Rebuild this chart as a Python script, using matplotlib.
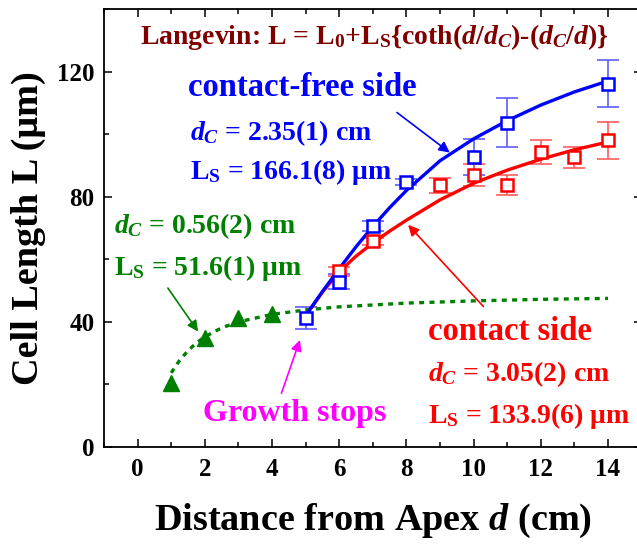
import matplotlib
matplotlib.use("Agg")
import matplotlib.pyplot as plt
from matplotlib.ticker import MultipleLocator

plt.rcParams['font.family'] = 'Liberation Serif'
plt.rcParams['font.weight'] = 'bold'
plt.rcParams['mathtext.fontset'] = 'custom'
plt.rcParams['mathtext.rm'] = 'Liberation Serif:bold'
plt.rcParams['mathtext.it'] = 'Liberation Serif:italic:bold'
plt.rcParams['mathtext.bf'] = 'Liberation Serif:bold'

# measured cell lengths (um) vs distance from apex (cm)
free_d = [5, 6, 7, 8, 10, 11, 14]
free_L = [41.2, 52.9, 70.6, 84.6, 92.7, 103.6, 116.1]
free_err = [3.4, 2.4, 1.5, 1.0, 5.8, 7.8, 7.5]

contact_d = [6, 7, 9, 10, 11, 12, 13, 14]
contact_L = [56.1, 65.7, 83.6, 87.0, 83.8, 94.3, 92.6, 98.0]
contact_err = [1.5, 1.0, 2.4, 3.6, 3.2, 3.7, 3.4, 5.9]

apex_d = [1, 2, 3, 4]
apex_L = [20.5, 35.0, 41.2, 42.4]

# Langevin fit curves
fit_free_d = [5, 5.5, 6, 6.5, 7, 7.5, 8, 9, 10, 11, 12, 13, 14]
fit_free_L = [42, 49.7, 57, 64, 70.5, 76.5, 82, 91.5, 98.5, 104.3, 109.3, 113.5, 117]
fit_contact_d = [5, 5.5, 6, 6.5, 7, 7.5, 8, 9, 10, 11, 12, 13, 14]
fit_contact_L = [42, 49.5, 56, 61, 65.2, 69, 72.5, 79, 84.3, 88.5, 92, 95, 97.5]
fit_apex_d = [1, 1.25, 1.5, 1.75, 2, 2.5, 3, 4, 5, 6, 8, 10, 12, 14]
fit_apex_L = [23.7, 27.7, 30.8, 33.3, 35.2, 38.1, 40.0, 42.4, 43.8, 44.8, 46.0, 46.7, 47.2, 47.5]

BLUE = '#0000ff'
RED = '#ff0000'
GREEN = '#008000'
MAROON = '#800000'
MAGENTA = '#ff00ff'

fig = plt.figure(figsize=(6.37, 5.45), dpi=100)
ax = fig.add_axes([0.1633, 0.1798, 0.844, 0.8037])

# error bars first, then fits, then open squares on top
ax.errorbar(free_d, free_L, yerr=free_err, fmt='none', ecolor='#5c5cff',
            elinewidth=1.2, capsize=8, capthick=1.2, zorder=2)
ax.errorbar(contact_d, contact_L, yerr=contact_err, fmt='none', ecolor='#ff5c5c',
            elinewidth=1.2, capsize=8, capthick=1.2, zorder=2)

ax.plot(fit_apex_d, fit_apex_L, color=GREEN, lw=2.4, ls=(0, (1.5, 1.6)), zorder=3)
ax.plot(fit_contact_d, fit_contact_L, color=RED, lw=2.4, zorder=3)
ax.plot(fit_free_d, fit_free_L, color=BLUE, lw=2.4, zorder=3)

ax.plot(apex_d, apex_L, '^', color=GREEN, ms=11, zorder=4)
ax.plot(contact_d, contact_L, 's', mfc='white', mec=RED, ms=8, mew=1.8, zorder=4)
ax.plot(free_d, free_L, 's', mfc='white', mec=BLUE, ms=8, mew=1.8, zorder=5)

ax.set_xlim(-1, 15)
ax.set_ylim(0, 140)
ax.set_xticks([0, 2, 4, 6, 8, 10, 12, 14])
ax.set_yticks([0, 40, 80, 120])
ax.xaxis.set_minor_locator(MultipleLocator(1))
ax.yaxis.set_minor_locator(MultipleLocator(20))
ax.tick_params(which='both', direction='in', top=True, right=True, width=1.1,
               labelsize=18)
ax.tick_params(which='major', length=6)
ax.tick_params(which='minor', length=3.5)
ax.tick_params(axis='x', pad=8)
ax.tick_params(axis='y', pad=7)
for s in ax.spines.values():
    s.set_linewidth(1.3)

ax.set_xlabel(r'Distance from Apex $d$ (cm)', fontsize=27.5, fontweight='bold', labelpad=15)
ax.set_ylabel('Cell Length L (μm)', fontsize=27.5, fontweight='bold', labelpad=8)

ax.text(7.05, 128.8,
        r'Langevin: L = L$_\mathrm{0}$+L$_\mathrm{S}${coth($d/d_C$)-($d_C/d$)}',
        color=MAROON, fontsize=20, ha='center', va='baseline')

ax.text(1.5, 112.3, 'contact-free side', color=BLUE, fontsize=23.5, va='baseline')
ax.text(1.55, 98.2, r'$d_C$ = 2.35(1) cm', color=BLUE, fontsize=20, va='baseline')
ax.text(1.55, 85.8, r'L$_\mathrm{S}$ = 166.1(8) μm', color=BLUE, fontsize=20, va='baseline')

ax.text(-0.69, 68.4, r'$d_C$ = 0.56(2) cm', color=GREEN, fontsize=20, va='baseline')
ax.text(-0.69, 55.0, r'L$_\mathrm{S}$ = 51.6(1) μm', color=GREEN, fontsize=20, va='baseline')

ax.text(8.65, 34.2, 'contact side', color=RED, fontsize=23.5, va='baseline')
ax.text(8.65, 20.9, r'$d_C$ = 3.05(2) cm', color=RED, fontsize=20, va='baseline')
ax.text(8.65, 7.6, r'L$_\mathrm{S}$ = 133.9(6) μm', color=RED, fontsize=20, va='baseline')

ax.text(1.94, 8.4, 'Growth stops', color=MAGENTA, fontsize=23, va='baseline')

arrow = dict(arrowstyle='-|>', lw=1.2, mutation_scale=16, shrinkA=0, shrinkB=0)
ax.annotate('', xy=(9.29, 94.1), xytext=(7.72, 106.9),
            arrowprops=dict(arrow, color=BLUE))
ax.annotate('', xy=(8.05, 71.0), xytext=(10.29, 44.9),
            arrowprops=dict(arrow, color=RED))
ax.annotate('', xy=(1.80, 36.9), xytext=(0.90, 50.8),
            arrowprops=dict(arrow, color=GREEN))
ax.annotate('', xy=(4.83, 34.2), xytext=(4.28, 17.2),
            arrowprops=dict(arrow, color=MAGENTA))

fig.savefig('out.png', dpi=100)
